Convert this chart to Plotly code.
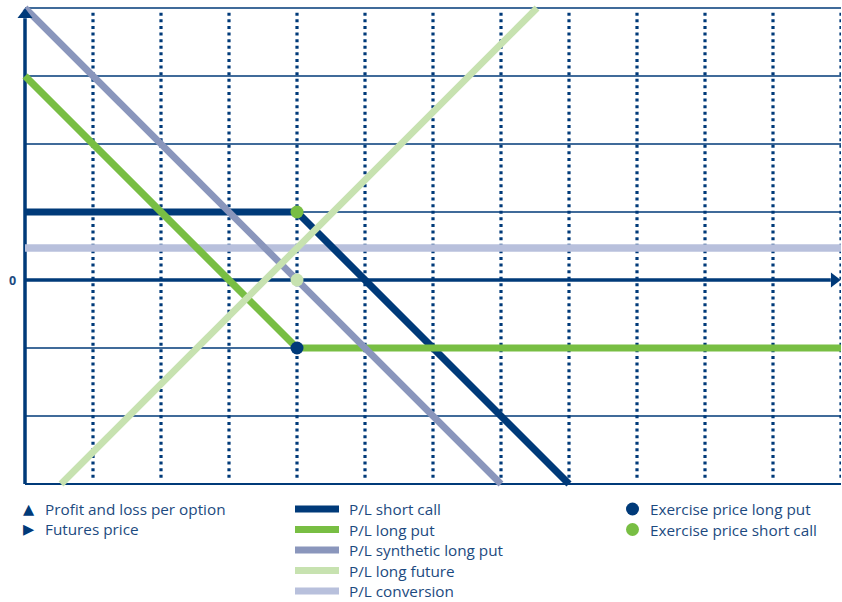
import plotly.graph_objects as go

# ---- data (grid units: x = futures price, y = profit/loss) ----
short_call_x = [0, 4, 8]
short_call_y = [1, 1, -3]
long_put_x = [0, 4, 12]
long_put_y = [3, -1, -1]
synthetic_x = [0, 7]
synthetic_y = [4, -3]
long_future_x = [0.53, 7.53]
long_future_y = [-3, 4]
conversion_x = [0, 12]
conversion_y = [0.47, 0.47]
ex_put_x, ex_put_y = [4], [-1]
ex_call_x, ex_call_y = [4], [1]
ex_future_x, ex_future_y = [4], [0]

x_grid = list(range(1, 13))
y_grid = [-3, -2, -1, 1, 2, 3, 4]

NAVY = "#003a79"
GREEN = "#78be43"
GRAYBLUE = "#8a96bc"
PALEGREEN = "#c7e2b0"
LAVENDER = "#b8c0dc"
TEXT = "#1c4a80"

W, H = 842, 602
ML, MR, MT, MB = 1, 1, 1, 111
PW, PH = W - ML - MR, H - MT - MB

fig = go.Figure()

shapes = []
for gx in x_grid:
    shapes.append(dict(type="line", xref="x", yref="y", x0=gx, x1=gx, y0=3.93, y1=-2.95,
                       line=dict(color=NAVY, width=3.2, dash="3px,3.6px"), layer="below"))
for gy in y_grid:
    shapes.append(dict(type="line", xref="x", yref="y", x0=0, x1=12, y0=gy, y1=gy,
                       line=dict(color=NAVY, width=1.8 if gy == -3 else 1.4), layer="below"))
# axes
shapes.append(dict(type="line", xref="x", yref="y", x0=0, x1=0, y0=-3.0, y1=3.85,
                   line=dict(color=NAVY, width=3.5), layer="below"))
shapes.append(dict(type="line", xref="x", yref="y", x0=0, x1=11.85, y0=0, y1=0,
                   line=dict(color=NAVY, width=3.5), layer="below"))

def line_trace(x, y, color, width):
    fig.add_trace(go.Scatter(x=x, y=y, mode="lines", line=dict(color=color, width=width),
                             hoverinfo="skip", showlegend=False))

line_trace(conversion_x, conversion_y, LAVENDER, 7.5)
line_trace(short_call_x, short_call_y, NAVY, 7.2)
line_trace(long_put_x, long_put_y, GREEN, 7.2)
line_trace(synthetic_x, synthetic_y, GRAYBLUE, 6.8)
line_trace(long_future_x, long_future_y, PALEGREEN, 6.8)

# arrow heads
fig.add_trace(go.Scatter(x=[0], y=[3.9], mode="markers",
                         marker=dict(symbol="triangle-up", size=13, color=NAVY),
                         hoverinfo="skip", showlegend=False, cliponaxis=False))
fig.add_trace(go.Scatter(x=[11.9], y=[0], mode="markers",
                         marker=dict(symbol="triangle-right", size=13, color=NAVY),
                         hoverinfo="skip", showlegend=False, cliponaxis=False))

# exercise price dots
fig.add_trace(go.Scatter(x=ex_future_x, y=ex_future_y, mode="markers",
                         marker=dict(size=13, color=PALEGREEN), hoverinfo="skip", showlegend=False))
fig.add_trace(go.Scatter(x=ex_put_x, y=ex_put_y, mode="markers",
                         marker=dict(size=13, color=NAVY), hoverinfo="skip", showlegend=False))
fig.add_trace(go.Scatter(x=ex_call_x, y=ex_call_y, mode="markers",
                         marker=dict(size=13, color=GREEN), hoverinfo="skip", showlegend=False))

# ---- legend (custom; pixel positions converted to plot-area paper coords) ----
def px(x):
    return (x - ML) / PW
def py(y):
    return 1 - (y - MT) / PH

annotations = []
FONT = dict(family="Open Sans, Noto Sans, sans-serif", size=15.3, color=TEXT)

annotations.append(dict(xref="x", yref="y", x=0, y=0, text="<b>0</b>", showarrow=False,
                        xanchor="right", xshift=-7, font=dict(family="Open Sans", size=12.5, color=TEXT)))

left_items = [("▲", "Profit and loss per option"), ("▶", "Futures price")]
for i, (sym, txt) in enumerate(left_items):
    yy = 508.5 + i * 20.5
    annotations.append(dict(xref="paper", yref="paper", x=px(21), y=py(yy), text=sym,
                            showarrow=False, xanchor="left", yanchor="middle",
                            font=dict(family="DejaVu Sans", size=14.5, color=NAVY)))
    annotations.append(dict(xref="paper", yref="paper", x=px(43), y=py(yy), text=txt,
                            showarrow=False, xanchor="left", yanchor="middle", font=FONT))

mid_items = [("P/L short call", NAVY), ("P/L long put", GREEN), ("P/L synthetic long put", GRAYBLUE),
             ("P/L long future", PALEGREEN), ("P/L conversion", LAVENDER)]
for i, (txt, col) in enumerate(mid_items):
    yy = 509 + i * 20.5
    shapes.append(dict(type="line", xref="paper", yref="paper", x0=px(295), x1=px(339),
                       y0=py(yy), y1=py(yy), line=dict(color=col, width=7)))
    annotations.append(dict(xref="paper", yref="paper", x=px(347), y=py(yy), text=txt,
                            showarrow=False, xanchor="left", yanchor="middle", font=FONT))

right_items = [("Exercise price long put", NAVY), ("Exercise price short call", GREEN)]
for i, (txt, col) in enumerate(right_items):
    yy = 509 + i * 20.5
    shapes.append(dict(type="circle", xref="paper", yref="paper",
                       x0=px(626), x1=px(639), y0=py(yy - 6.5), y1=py(yy + 6.5),
                       fillcolor=col, line=dict(width=0)))
    annotations.append(dict(xref="paper", yref="paper", x=px(648), y=py(yy), text=txt,
                            showarrow=False, xanchor="left", yanchor="middle", font=FONT))

# plot area: x=0 -> 25px, unit = 68px; y=4 -> 8px, y=-3 -> 484px
fig.update_layout(
    width=W, height=H, autosize=False,
    margin=dict(l=ML, r=MR, t=MT, b=MB, pad=0),
    paper_bgcolor="white", plot_bgcolor="white",
    xaxis=dict(range=[-0.353, 12.0], showgrid=False, zeroline=False, showticklabels=False,
               ticks="", fixedrange=True),
    yaxis=dict(range=[-3.103, 4.103], showgrid=False, zeroline=False, showticklabels=False,
               ticks="", fixedrange=True),
    shapes=shapes, annotations=annotations,
)

fig.write_html(
    "out.html",
    config={"responsive": False, "displayModeBar": False},
    post_script="document.body.style.margin='0';document.body.style.padding='0';"
                "document.documentElement.style.overflow='hidden';",
)
